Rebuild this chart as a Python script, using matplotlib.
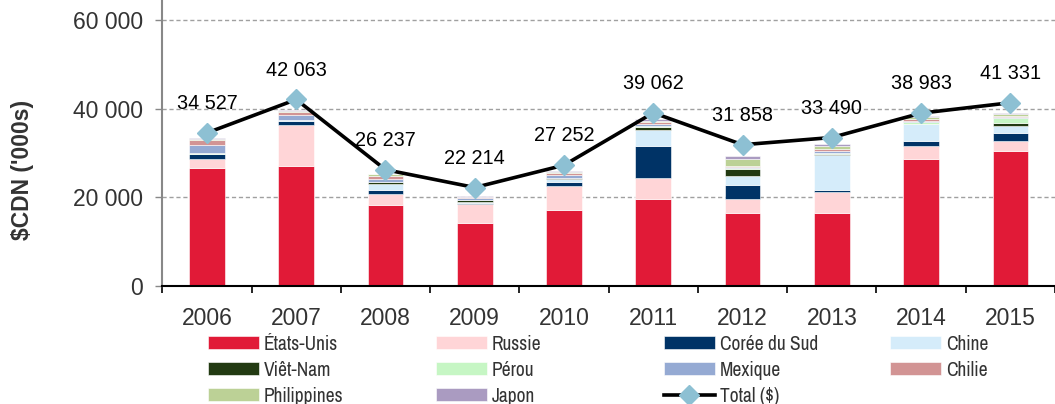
import matplotlib
matplotlib.use("Agg")
import matplotlib.pyplot as plt
from matplotlib import font_manager
import numpy as np

years = ["2006", "2007", "2008", "2009", "2010", "2011", "2012", "2013", "2014", "2015"]
etats_unis = [26700, 27060, 18200, 14140, 17140, 19690, 16390, 16390, 28640, 30510]
russie = [1900, 9300, 2600, 4280, 5480, 4740, 3300, 4880, 2930, 2190]
coree = [1100, 830, 770, 370, 830, 7210, 3010, 380, 1130, 1870]
chine = [100, 250, 1500, 200, 600, 3540, 2100, 7960, 3760, 1510]
vietnam = [50, 50, 300, 300, 200, 750, 1580, 50, 100, 750]
perou = [50, 50, 100, 200, 100, 250, 300, 310, 380, 1120]
mexique = [1900, 1000, 700, 250, 780, 400, 200, 520, 300, 250]
chilie = [1050, 600, 700, 250, 350, 350, 260, 380, 400, 250]
philippines = [400, 400, 400, 150, 200, 300, 1420, 750, 400, 250]
japon = [100, 100, 100, 100, 150, 350, 830, 450, 400, 240]
total = [34527, 42063, 26237, 22214, 27252, 39062, 31858, 33490, 38983, 41331]

series = [
    ("États-Unis", etats_unis, "#E11A37"),
    ("Russie", russie, "#FFD5D7"),
    ("Corée du Sud", coree, "#003366"),
    ("Chine", chine, "#D5ECFA"),
    ("Viêt-Nam", vietnam, "#223A12"),
    ("Pérou", perou, "#C6F6C4"),
    ("Mexique", mexique, "#95AAD3"),
    ("Chilie", chilie, "#D29494"),
    ("Philippines", philippines, "#BCD196"),
    ("Japon", japon, "#AA9BC1"),
]

avail = {f.name for f in font_manager.fontManager.ttflist}
main_font = "Liberation Sans" if "Liberation Sans" in avail else "DejaVu Sans"
narrow = [n for n in avail if "Narrow" in n or "Condensed" in n]
if "Liberation Sans Narrow" in avail:
    legend_font, legend_size = "Liberation Sans Narrow", 14
elif narrow:
    legend_font, legend_size = sorted(narrow)[0], 14
else:
    legend_font, legend_size = main_font, 12
plt.rcParams["font.family"] = [main_font, "DejaVu Sans"]

TXT = "#333333"
fig = plt.figure(figsize=(10.55, 4.04), dpi=100)
W, H = 1055, 404
ax = fig.add_axes([162.3 / W, (404 - 286) / H, (1055 - 162.3) / W, 286 / H])

x = np.arange(len(years))
bottom = np.zeros(len(years))
handles = []
for name, vals, col in series:
    b = ax.bar(x, vals, width=0.40, bottom=bottom, color=col, label=name,
               edgecolor="white", linewidth=0.4, zorder=2)
    handles.append(b)
    bottom += np.array(vals)

line, = ax.plot(x, total, color="black", lw=2.6, marker="D", markersize=10,
                markerfacecolor="#8DC0D3", markeredgecolor="#8DC0D3", zorder=4,
                label="Total ($)")
for xi, t in zip(x, total):
    lab = f"{t:,}".replace(",", " ")
    ax.annotate(lab, (xi, t), xytext=(0, 21), textcoords="offset points",
                ha="center", va="center", fontsize=14.3, color="black", zorder=5)

ax.set_xlim(-0.5, 9.41)
ax.set_ylim(0, 64500)
ax.set_yticks([0, 20000, 40000, 60000])
ax.set_yticklabels(["0", "20 000", "40 000", "60 000"], fontsize=16.5, color=TXT)
ax.yaxis.grid(True, linestyle=(0, (3, 2)), color="#A0A0A0", lw=1, zorder=0)
ax.set_axisbelow(True)

ax.set_xticks(x)
ax.set_xticklabels(years, fontsize=16.5, color=TXT)
ax.tick_params(axis="x", which="major", length=0, pad=15)
ax.set_xticks(np.arange(-0.5, 9.6, 1), minor=True)
ax.tick_params(axis="x", which="minor", length=5, width=1.2, color="black", direction="out")
ax.tick_params(axis="y", length=5, color="#888888", width=1, pad=9)

for s in ["top", "right"]:
    ax.spines[s].set_visible(False)
ax.spines["left"].set_color("#888888")
ax.spines["left"].set_linewidth(1.5)
ax.spines["bottom"].set_color("black")
ax.spines["bottom"].set_linewidth(1.5)

fig.text(23 / W, 1 - 170 / H, "\\$CDN ('000s)", rotation=90, ha="center", va="center",
         fontsize=16.5, fontweight="bold", color=TXT)

# legend: four columns
all_handles = handles + [line]
cols = [[0, 4, 8], [1, 5, 9], [2, 6, 10], [3, 7]]
col_x = [208, 436, 664, 890]
for cx, idxs in zip(col_x, cols):
    hs = [all_handles[i] for i in idxs]
    labs = [h.get_label() for h in hs]
    leg = fig.legend(hs, labs, loc="upper left", bbox_to_anchor=(cx / W, 1 - 334.5 / H),
                     frameon=False, ncol=1, handlelength=2.62, handleheight=0.62,
                     handletextpad=0.26, labelspacing=0.36, borderaxespad=0,
                     borderpad=0, prop={"family": legend_font, "size": legend_size})
    for t in leg.get_texts():
        t.set_color(TXT)

fig.savefig("out.png", dpi=100)
